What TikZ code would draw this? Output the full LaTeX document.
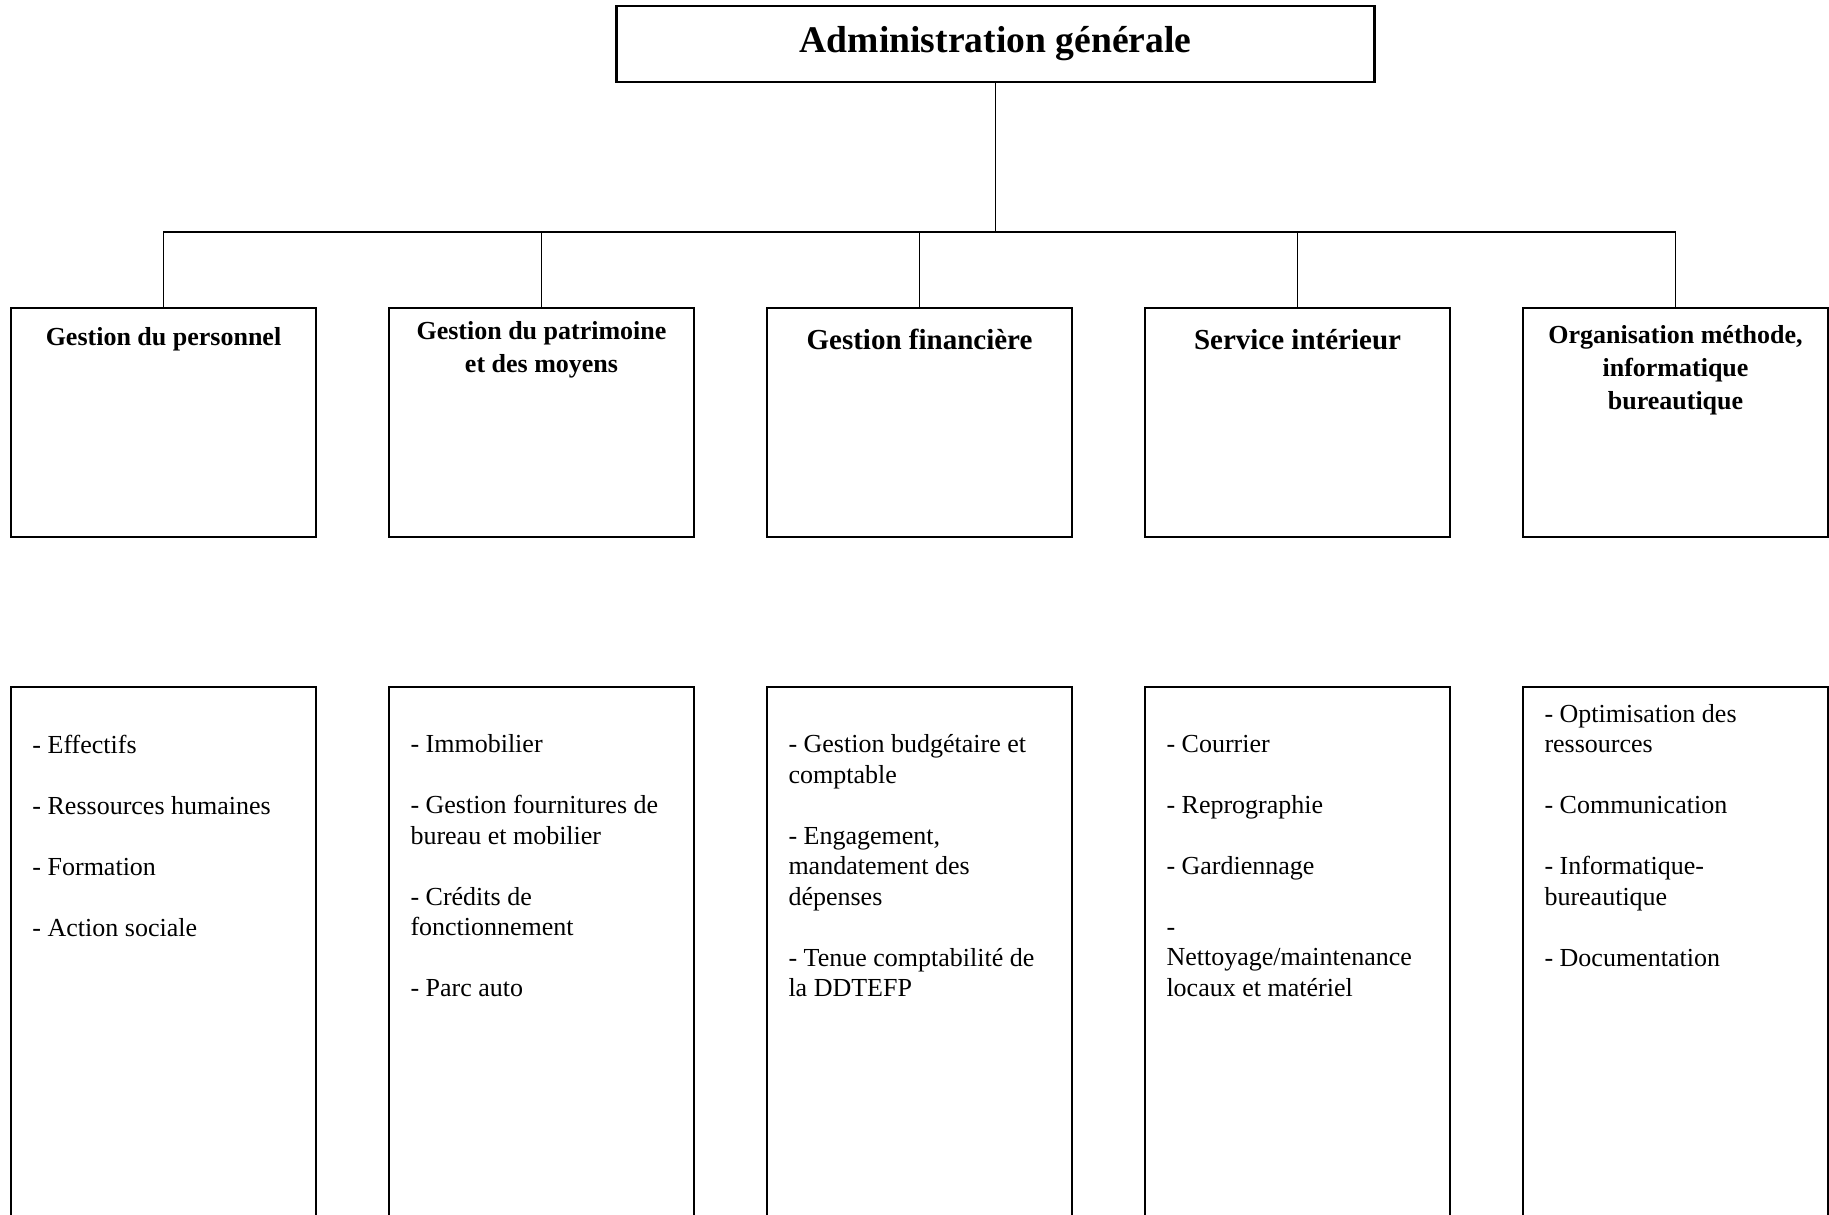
\documentclass[tikz,border=0pt]{standalone}
\usepackage{fontspec}
\setmainfont{Liberation Serif}
\usetikzlibrary{positioning}

\newcommand{\itemgap}{\\[15.25pt]}

\tikzset{
    topbox/.style={draw, line width=1.1pt, minimum width=379pt, minimum height=38pt, inner sep=0pt,
                   font=\bfseries\fontsize{18.8}{22}\selectfont},
    headbox/.style={draw, line width=0.9pt, minimum width=152.5pt, minimum height=114.5pt, inner sep=0pt},
    subbox/.style={draw, line width=0.9pt, minimum width=152.5pt, minimum height=272pt, inner sep=0pt, anchor=north},
    headtext/.style={inner sep=0pt, align=center, font=\bfseries\fontsize{13}{16.5}\selectfont},
    bigheadtext/.style={inner sep=0pt, align=center, font=\bfseries\fontsize{14.5}{17}\selectfont},
    subtext/.style={inner sep=0pt, align=left, font=\fontsize{13}{15.25}\selectfont},
    link/.style={line width=0.7pt}
}

\begin{document}
\begin{tikzpicture}[x=0.5pt,y=-0.5pt]
    \pgfmathsetmacro {\bx}{163.5}  %Centre of first column
    \pgfmathsetmacro {\dx}{378}    %Column spacing
    \pgfmathsetmacro {\hy}{422.5}  %Centre of upper boxes
    \pgfmathsetmacro {\sy}{686}    %Top of lower boxes

    \useasboundingbox (0,0) rectangle (1829,1214);
    \clip (0,0) rectangle (1829,1214);

    \node[topbox] (admin) at (995.5,44) {Administration générale};
    \coordinate (bar) at (995.5,232);
    \draw[link] (admin) -- (bar);

    %Loop for drawing upper and lower boxes
    \foreach \i in {1,...,5} {
        \pgfmathsetmacro {\x}{\bx+(\i-1)*\dx}   %Column centre
        \node[headbox] (head\i) at (\x,\hy) {};
        \node[subbox] (sub\i) at (\x,\sy) {};
        \draw[link] (bar) -| (head\i.north);
    }

    % Upper box titles
    \node[headtext, below=10.2pt of head1.north] (htext1) {Gestion du personnel};
    \node[headtext, below=7pt of head2.north] (htext2) {Gestion du patrimoine\\et des moyens};
    \node[bigheadtext, below=10.75pt of head3.north] (htext3) {Gestion financière};
    \node[bigheadtext, below=10.75pt of head4.north] (htext4) {Service intérieur};
    \node[headtext, below=9.1pt of head5.north] (htext5) {Organisation méthode,\\informatique\\bureautique};

    % Lower box contents
    \node[subtext, below right=24.2pt and 11pt of sub1.north west] (stext1)
        {- Effectifs\itemgap - Ressources humaines\itemgap - Formation\itemgap - Action sociale};
    \node[subtext, below right=24.2pt and 11pt of sub2.north west] (stext2)
        {- Immobilier\itemgap - Gestion fournitures de\\bureau et mobilier\itemgap
         - Crédits de\\fonctionnement\itemgap - Parc auto};
    \node[subtext, below right=24.2pt and 11pt of sub3.north west] (stext3)
        {- Gestion budgétaire et\\comptable\itemgap - Engagement,\\mandatement des\\dépenses\itemgap
         - Tenue comptabilité de\\la DDTEFP};
    \node[subtext, below right=24.2pt and 11pt of sub4.north west] (stext4)
        {- Courrier\itemgap - Reprographie\itemgap - Gardiennage\itemgap
         -\\Nettoyage/maintenance\\locaux et matériel};
    \node[subtext, below right=8.9pt and 11pt of sub5.north west] (stext5)
        {- Optimisation des\\ressources\itemgap - Communication\itemgap - Informatique-\\bureautique\itemgap
         - Documentation};
\end{tikzpicture}
\end{document}
